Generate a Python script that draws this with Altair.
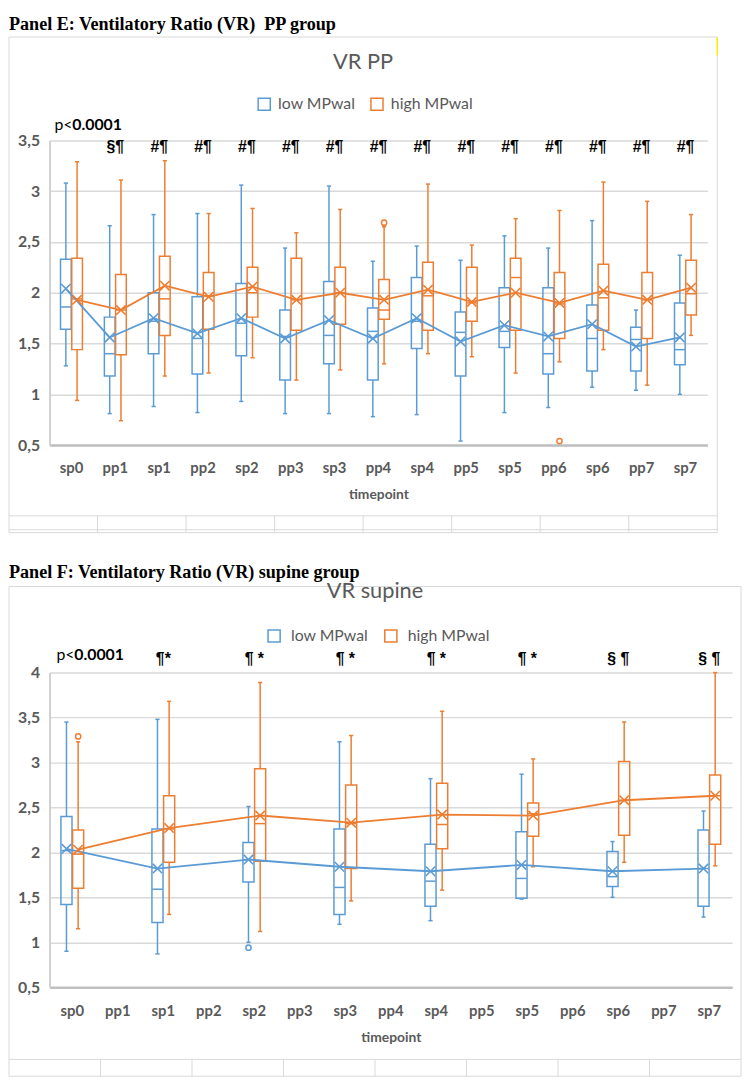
import altair as alt
import pandas as pd

TIMEPOINTS = ["sp0", "pp1", "sp1", "pp2", "sp2", "pp3", "sp3", "pp4",
              "sp4", "pp5", "sp5", "pp6", "sp6", "pp7", "sp7"]
GROUPS = ["low MPwal", "high MPwal"]
COLORS = ["#5B9BD5", "#ED7D31"]

# ---------------- Panel E (PP group) ----------------
E_TP = TIMEPOINTS
E_LOW_MIN = [1.28, 0.81, 0.88, 0.82, 0.93, 0.81, 0.81, 0.78, 0.80, 0.54, 0.82, 0.87, 1.07, 1.04, 1.00]
E_LOW_Q1 = [1.64, 1.18, 1.40, 1.20, 1.38, 1.14, 1.30, 1.14, 1.45, 1.18, 1.46, 1.20, 1.23, 1.23, 1.29]
E_LOW_MED = [1.86, 1.40, 1.72, 1.55, 1.70, 1.57, 1.58, 1.62, 1.72, 1.61, 1.62, 1.40, 1.55, 1.54, 1.44]
E_LOW_Q3 = [2.33, 1.76, 2.00, 1.96, 2.09, 1.83, 2.11, 1.85, 2.15, 1.81, 2.05, 2.05, 1.88, 1.66, 1.90]
E_LOW_MAX = [3.08, 2.66, 2.77, 2.78, 3.06, 2.44, 3.05, 2.31, 2.46, 2.32, 2.56, 2.44, 2.71, 1.83, 2.37]
E_LOW_MEAN = [2.04, 1.56, 1.75, 1.60, 1.75, 1.55, 1.73, 1.55, 1.75, 1.52, 1.68, 1.57, 1.69, 1.47, 1.56]

E_HIGH_MIN = [0.94, 0.74, 1.18, 1.21, 1.36, 1.14, 1.24, 1.30, 1.40, 1.37, 1.21, 1.32, 1.44, 1.09, 1.58]
E_HIGH_Q1 = [1.44, 1.39, 1.58, 1.64, 1.76, 1.63, 1.69, 1.74, 1.63, 1.72, 1.63, 1.55, 1.63, 1.55, 1.78]
E_HIGH_MED = [1.94, 1.83, 1.94, 1.97, 2.00, 1.93, 2.00, 1.83, 1.97, 1.90, 2.15, 1.89, 1.95, 1.93, 1.99]
E_HIGH_Q3 = [2.34, 2.18, 2.36, 2.20, 2.25, 2.34, 2.25, 2.13, 2.30, 2.25, 2.34, 2.20, 2.28, 2.20, 2.32]
E_HIGH_MAX = [3.29, 3.11, 3.30, 2.78, 2.83, 2.59, 2.82, 2.65, 3.07, 2.47, 2.73, 2.81, 3.09, 2.90, 2.77]
E_HIGH_MEAN = [1.93, 1.83, 2.07, 1.96, 2.06, 1.93, 2.00, 1.93, 2.03, 1.91, 2.00, 1.90, 2.02, 1.93, 2.05]

E_OUT_TP = ["pp4", "pp6"]
E_OUT_GROUP = ["high MPwal", "high MPwal"]
E_OUT_VAL = [2.69, 0.54]

E_ANN_TP = ["pp1", "sp1", "pp2", "sp2", "pp3", "sp3", "pp4", "sp4", "pp5", "sp5", "pp6", "sp6", "pp7", "sp7"]
E_ANN_TXT = ["§¶", "#¶", "#¶", "#¶", "#¶", "#¶", "#¶", "#¶", "#¶", "#¶", "#¶", "#¶", "#¶", "#¶"]

# ---------------- Panel F (supine group) ----------------
F_TP = ["sp0", "sp1", "sp2", "sp3", "sp4", "sp5", "sp6", "sp7"]
F_LOW_MIN = [0.90, 0.87, 1.00, 1.20, 1.24, 1.48, 1.50, 1.28]
F_LOW_Q1 = [1.42, 1.22, 1.67, 1.31, 1.40, 1.49, 1.62, 1.40]
F_LOW_MED = [2.02, 1.59, 1.92, 1.61, 1.68, 1.71, 1.73, 1.82]
F_LOW_Q3 = [2.40, 2.26, 2.11, 2.26, 2.09, 2.23, 2.01, 2.25]
F_LOW_MAX = [3.45, 3.48, 2.51, 3.23, 2.82, 2.87, 2.12, 2.46]
F_LOW_MEAN = [2.04, 1.82, 1.92, 1.84, 1.79, 1.86, 1.79, 1.82]

F_HIGH_MIN = [1.15, 1.31, 1.12, 1.46, 1.58, 1.84, 1.89, 1.85]
F_HIGH_Q1 = [1.60, 1.89, 1.90, 1.82, 2.04, 2.18, 2.19, 2.09]
F_HIGH_MED = [1.98, 2.26, 2.32, 2.32, 2.31, 2.43, 2.58, 2.63]
F_HIGH_Q3 = [2.25, 2.63, 2.93, 2.75, 2.77, 2.55, 3.01, 2.86]
F_HIGH_MAX = [3.23, 3.68, 3.89, 3.30, 3.57, 3.04, 3.45, 4.00]
F_HIGH_MEAN = [2.03, 2.27, 2.41, 2.33, 2.42, 2.41, 2.58, 2.63]

F_OUT_TP = ["sp2", "sp0"]
F_OUT_GROUP = ["low MPwal", "high MPwal"]
F_OUT_VAL = [0.94, 3.29]

F_ANN_TP = ["sp1", "sp2", "sp3", "sp4", "sp5", "sp6", "sp7"]
F_ANN_TXT = ["¶*", "¶ *", "¶ *", "¶ *", "¶  *", "§ ¶", "§ ¶"]

GREY = "#595959"
FONT = "Lato"
HLINE = "M-1,0L1,0"
XMARK = "M-1,-1L1,1M-1,1L1,-1"


def stats_frame(tps, low, high):
    rows = []
    for gname, series in ((GROUPS[0], low), (GROUPS[1], high)):
        mn, q1, md, q3, mx, me = series
        for i, tp in enumerate(tps):
            rows.append(dict(timepoint=tp, group=gname, lo=mn[i], q1=q1[i],
                             med=md[i], q3=q3[i], hi=mx[i], mean=me[i]))
    return pd.DataFrame(rows)


def make_panel(stats, outl, ann, cfg):
    W, H = cfg["W"], cfg["H"]
    ymin, ymax = cfg["ydomain"]
    yvals = [v / 2 for v in range(int(ymin * 2), int(ymax * 2) + 1)]

    x_enc = alt.X(
        "timepoint:N",
        sort=TIMEPOINTS,
        scale=alt.Scale(domain=TIMEPOINTS, paddingInner=0.5, paddingOuter=0.25),
        axis=alt.Axis(title="timepoint", labelAngle=0, ticks=False, tickSize=0,
                      domainColor="#bfbfbf", domainWidth=2.5, grid=False,
                      labelFont=FONT, labelFontWeight="bold", labelFontSize=15,
                      labelColor=GREY, labelPadding=cfg["xlabpad"],
                      titleFont=FONT, titleFontWeight="bold", titleFontSize=14,
                      titleColor=GREY, titlePadding=cfg["xtitlepad"]),
    )
    xo_enc = alt.XOffset("group:N", sort=GROUPS,
                         scale=alt.Scale(domain=GROUPS, paddingInner=0.05, paddingOuter=0))
    col_enc = alt.Color(
        "group:N", sort=GROUPS,
        scale=alt.Scale(domain=GROUPS, range=COLORS),
        legend=alt.Legend(orient="none", legendX=cfg["legX"], legendY=cfg["legY"],
                          direction="horizontal", title=None, symbolType="square",
                          symbolSize=150, symbolStrokeWidth=1.5, symbolFillColor="white",
                          labelFont=FONT, labelFontSize=16, labelColor=GREY,
                          labelOffset=cfg["labOff"], columnPadding=cfg["colPad"], padding=0),
    )
    y_scale = alt.Scale(domain=[ymin, ymax], nice=False, zero=False)
    y_axis = alt.Axis(title=None, values=yvals, ticks=False, tickSize=0,
                      domainColor="#d0d0d0", domainWidth=2,
                      gridColor="#d9d9d9", gridWidth=1.5,
                      labelFont=FONT, labelFontWeight="bold", labelFontSize=16,
                      labelColor=GREY, labelPadding=10,
                      labelExpr="replace(format(datum.value, '~g'), '.', ',')")

    base = alt.Chart(stats).encode(x=x_enc, xOffset=xo_enc, color=col_enc)

    fx1, fx2, fy1, fy2 = cfg["frame"]
    one = pd.DataFrame({"k": [0]})
    frame = alt.Chart(one).mark_rect(fill="transparent", stroke="#d9d9d9", strokeWidth=1).encode(
        x=alt.value(fx1), x2=alt.value(fx2), y=alt.value(fy1), y2=alt.value(fy2))
    strip_lines = []
    for yy in cfg["strip_y"]:
        strip_lines.append(alt.Chart(one).mark_rule(color="#d9d9d9", strokeWidth=1).encode(
            x=alt.value(fx1), x2=alt.value(fx2), y=alt.value(yy)))
    cell = (fx2 - fx1) / 8.0
    for k in range(1, 8):
        strip_lines.append(alt.Chart(one).mark_rule(color="#d9d9d9", strokeWidth=1).encode(
            x=alt.value(fx1 + k * cell), y=alt.value(cfg["strip_y"][0]), y2=alt.value(fy2)))

    whisk_lo = base.mark_rule(strokeWidth=1.5).encode(
        y=alt.Y("lo:Q", scale=y_scale, axis=y_axis), y2="q1:Q")
    whisk_hi = base.mark_rule(strokeWidth=1.5).encode(y=alt.Y("q3:Q"), y2="hi:Q")
    cap_lo = base.mark_point(shape=HLINE, size=18, strokeWidth=1.5, filled=False,
                             opacity=1).encode(y=alt.Y("lo:Q"))
    cap_hi = base.mark_point(shape=HLINE, size=18, strokeWidth=1.5, filled=False,
                             opacity=1).encode(y=alt.Y("hi:Q"))
    box = base.mark_rect(filled=False, strokeWidth=1.5).encode(
        y=alt.Y("q1:Q"), y2="q3:Q")
    med = base.mark_point(shape=HLINE, size=110, strokeWidth=1.5, filled=False,
                          opacity=1).encode(y=alt.Y("med:Q"))
    mean_line = base.mark_line(strokeWidth=1.8).encode(y=alt.Y("mean:Q"))
    mean_pt = base.mark_point(shape=XMARK, size=90, strokeWidth=1.6,
                              filled=False, opacity=1).encode(y=alt.Y("mean:Q"))
    out_pts = alt.Chart(outl).mark_point(shape="circle", filled=False, size=28,
                                         strokeWidth=1.5, opacity=1).encode(
        x=x_enc, xOffset=xo_enc, color=col_enc, y=alt.Y("value:Q"))

    ann_txt = alt.Chart(ann).mark_text(font="Liberation Sans", fontWeight="bold",
                                       fontSize=16, color="black", baseline="middle").encode(
        x=x_enc, y=alt.value(cfg["ann_y"]), text="label:N")

    px, py = cfg["p_xy"]
    p1 = alt.Chart(pd.DataFrame({"t": ["p<"]})).mark_text(
        font=FONT, fontSize=16, color="black", align="left", baseline="middle").encode(
        x=alt.value(px), y=alt.value(py), text="t:N")
    p2 = alt.Chart(pd.DataFrame({"t": ["0.0001"]})).mark_text(
        font=FONT, fontSize=16, fontWeight="bold", color="black", align="left",
        baseline="middle").encode(x=alt.value(px + 18), y=alt.value(py), text="t:N")

    tx, ty = cfg["panel_xy"]
    ptitle = alt.Chart(pd.DataFrame({"t": [cfg["panel_title"]]})).mark_text(
        font="Liberation Serif", fontWeight="bold", fontSize=18.3, color="black",
        align="left", baseline="middle").encode(x=alt.value(tx), y=alt.value(ty), text="t:N")
    cx, cy = cfg["chart_xy"]
    ctitle = alt.Chart(pd.DataFrame({"t": [cfg["chart_title"]]})).mark_text(
        font=FONT, fontSize=22, color=GREY, align="center", baseline="middle").encode(
        x=alt.value(cx), y=alt.value(cy), text="t:N")

    layers = [frame] + strip_lines + cfg.get("extra", []) + [
        whisk_lo, whisk_hi, cap_lo, cap_hi, box, med, mean_line, mean_pt, out_pts,
        ann_txt, p1, p2, ptitle, ctitle]
    return alt.layer(*layers).properties(width=W, height=H)


E_stats = stats_frame(E_TP,
                      (E_LOW_MIN, E_LOW_Q1, E_LOW_MED, E_LOW_Q3, E_LOW_MAX, E_LOW_MEAN),
                      (E_HIGH_MIN, E_HIGH_Q1, E_HIGH_MED, E_HIGH_Q3, E_HIGH_MAX, E_HIGH_MEAN))
F_stats = stats_frame(F_TP,
                      (F_LOW_MIN, F_LOW_Q1, F_LOW_MED, F_LOW_Q3, F_LOW_MAX, F_LOW_MEAN),
                      (F_HIGH_MIN, F_HIGH_Q1, F_HIGH_MED, F_HIGH_Q3, F_HIGH_MAX, F_HIGH_MEAN))
E_out = pd.DataFrame({"timepoint": E_OUT_TP, "group": E_OUT_GROUP, "value": E_OUT_VAL})
F_out = pd.DataFrame({"timepoint": F_OUT_TP, "group": F_OUT_GROUP, "value": F_OUT_VAL})
E_ann = pd.DataFrame({"timepoint": E_ANN_TP, "label": E_ANN_TXT})
F_ann = pd.DataFrame({"timepoint": F_ANN_TP, "label": F_ANN_TXT})

one_row = pd.DataFrame({"k": [0]})
yellow = alt.Chart(one_row).mark_rule(color="#ffef00", strokeWidth=1.5).encode(
    x=alt.value(675), y=alt.value(-104), y2=alt.value(-86))

E_cfg = dict(W=665, H=308, ydomain=(0.5, 3.5), xlabpad=16, xtitlepad=12,
             legX=209, legY=-45, labOff=6, colPad=11,
             frame=(-41, 675, -104.5, 396.5), strip_y=[379.5, 393.5],
             ann_y=7, p_xy=(5, -15.5), panel_xy=(-41, -117),
             panel_title="Panel E: Ventilatory Ratio (VR)\u00a0 PP group",
             chart_xy=(317, -79.5), chart_title="VR PP", extra=[yellow])
F_cfg = dict(W=690, H=318, ydomain=(0.5, 4.0), xlabpad=17, xtitlepad=12,
             legX=219, legY=-45.5, labOff=9, colPad=12,
             frame=(-41, 699, -87, 408), strip_y=[391],
             ann_y=-14, p_xy=(7, -18), panel_xy=(-41, -101),
             panel_title="Panel F: Ventilatory Ratio (VR) supine group",
             chart_xy=(329, -82), chart_title="VR supine")

chart_E = make_panel(E_stats, E_out, E_ann, E_cfg)
chart_F = make_panel(F_stats, F_out, F_ann, F_cfg)

chart = alt.vconcat(chart_E, chart_F, spacing=28).resolve_scale(
    x="independent", y="independent", color="independent", xOffset="independent"
).resolve_legend(color="independent").properties(padding=0).configure_view(
    stroke="transparent")

chart.save("out.html", embed_options={"renderer": "svg", "actions": False})
